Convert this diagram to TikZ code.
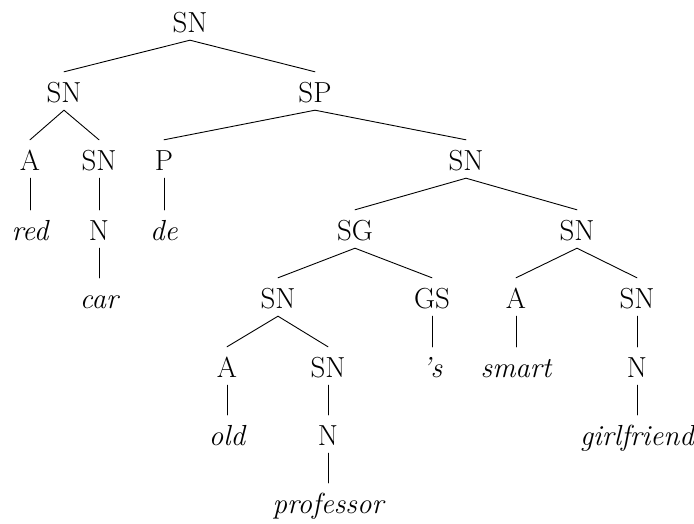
\documentclass[tikz,border=0pt]{standalone}
\begin{document}
\begin{tikzpicture}[x=1pt,y=-1pt,
  lbl/.style={anchor=base,inner sep=0pt,text height=30pt,text depth=8pt,
    font=\fontsize{29}{35}\selectfont},
  word/.style={lbl,font=\fontsize{29}{35}\selectfont\itshape},
  branch/.style={line width=0.9pt,line cap=round}]
\useasboundingbox (0,0) rectangle (694,523);

% level 0
\node[lbl] (root) at (190,32) {SN};
% level 1
\node[lbl] (sn1) at (64,102) {SN};
\node[lbl] (sp) at (315,102) {SP};
% level 2
\node[lbl] (a1) at (30,170) {A};
\node[lbl] (sn2) at (99,170) {SN};
\node[lbl] (p) at (164,170) {P};
\node[lbl] (sn3) at (466,170) {SN};
% level 3
\node[word] (red) at (30,240) {red};
\node[lbl] (n1) at (99,240) {N};
\node[word] (de) at (164,240) {de};
\node[lbl] (sg) at (355,240) {SG};
\node[lbl] (sn4) at (577,240) {SN};
% level 4
\node[word] (car) at (99,308) {car};
\node[lbl] (sn5) at (278,308) {SN};
\node[lbl] (gs) at (432,308) {GS};
\node[lbl] (a2) at (516,308) {A};
\node[lbl] (sn6) at (637,308) {SN};
% level 5
\node[lbl] (a3) at (227,377) {A};
\node[lbl] (sn7) at (328,377) {SN};
\node[word] (poss) at (432,377) {'s};
\node[word] (smart) at (516,377) {smart};
\node[lbl] (n2) at (637,377) {N};
% level 6
\node[word] (old) at (227,445) {old};
\node[lbl] (n3) at (328,445) {N};
\node[word] (girl) at (637,445) {girlfriend};
% level 7
\node[word] (prof) at (328,513) {professor};

% branches
\foreach \u/\v in {root/sn1,root/sp,sn1/a1,sn1/sn2,sp/p,sp/sn3,
  a1/red,sn2/n1,p/de,sn3/sg,sn3/sn4,n1/car,sg/sn5,sg/gs,sn4/a2,sn4/sn6,
  sn5/a3,sn5/sn7,gs/poss,a2/smart,sn6/n2,a3/old,sn7/n3,n2/girl,n3/prof}
  \draw[branch] (\u.south) -- (\v.north);
\end{tikzpicture}
\end{document}
